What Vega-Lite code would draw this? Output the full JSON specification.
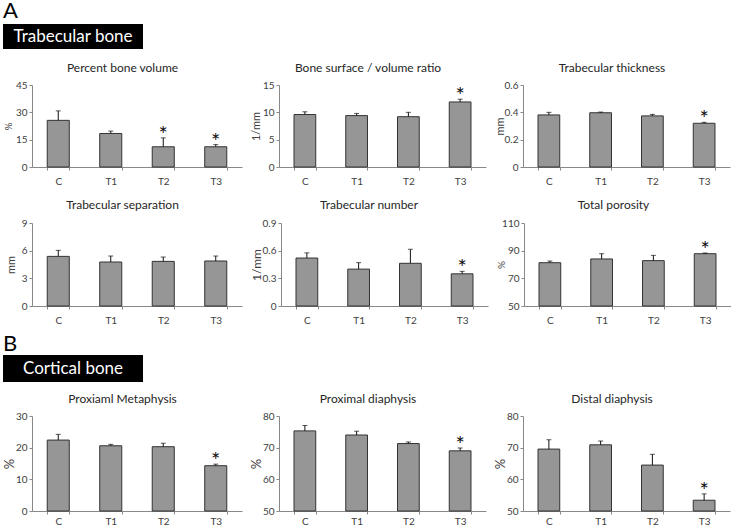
{
  "$schema": "https://vega.github.io/schema/vega-lite/v6.json",
  "padding": {"left": 3, "top": 0, "right": 0, "bottom": 0},
  "background": "white",
  "datasets": {
    "bone": [
      {"p": "p1", "g": "C", "v": 25.6, "u": 30.8, "s": ""},
      {"p": "p1", "g": "T1", "v": 18.4, "u": 19.7, "s": ""},
      {"p": "p1", "g": "T2", "v": 11.1, "u": 16.0, "s": "*"},
      {"p": "p1", "g": "T3", "v": 11.1, "u": 12.3, "s": "*"},
      {"p": "p2", "g": "C", "v": 9.6, "u": 10.1, "s": ""},
      {"p": "p2", "g": "T1", "v": 9.4, "u": 9.8, "s": ""},
      {"p": "p2", "g": "T2", "v": 9.2, "u": 10.0, "s": ""},
      {"p": "p2", "g": "T3", "v": 11.9, "u": 12.4, "s": "*"},
      {"p": "p3", "g": "C", "v": 0.381, "u": 0.4, "s": ""},
      {"p": "p3", "g": "T1", "v": 0.397, "u": 0.402, "s": ""},
      {"p": "p3", "g": "T2", "v": 0.374, "u": 0.385, "s": ""},
      {"p": "p3", "g": "T3", "v": 0.32, "u": 0.327, "s": "*"},
      {"p": "p4", "g": "C", "v": 5.38, "u": 6.03, "s": ""},
      {"p": "p4", "g": "T1", "v": 4.77, "u": 5.42, "s": ""},
      {"p": "p4", "g": "T2", "v": 4.84, "u": 5.31, "s": ""},
      {"p": "p4", "g": "T3", "v": 4.88, "u": 5.42, "s": ""},
      {"p": "p5", "g": "C", "v": 0.52, "u": 0.576, "s": ""},
      {"p": "p5", "g": "T1", "v": 0.4, "u": 0.47, "s": ""},
      {"p": "p5", "g": "T2", "v": 0.463, "u": 0.615, "s": ""},
      {"p": "p5", "g": "T3", "v": 0.349, "u": 0.376, "s": "*"},
      {"p": "p6", "g": "C", "v": 81.3, "u": 82.5, "s": ""},
      {"p": "p6", "g": "T1", "v": 84.0, "u": 87.8, "s": ""},
      {"p": "p6", "g": "T2", "v": 82.8, "u": 86.6, "s": ""},
      {"p": "p6", "g": "T3", "v": 87.8, "u": 88.3, "s": "*"},
      {"p": "p7", "g": "C", "v": 22.4, "u": 24.2, "s": ""},
      {"p": "p7", "g": "T1", "v": 20.6, "u": 21.05, "s": ""},
      {"p": "p7", "g": "T2", "v": 20.3, "u": 21.4, "s": ""},
      {"p": "p7", "g": "T3", "v": 14.3, "u": 14.8, "s": "*"},
      {"p": "p8", "g": "C", "v": 75.3, "u": 77.0, "s": ""},
      {"p": "p8", "g": "T1", "v": 74.0, "u": 75.2, "s": ""},
      {"p": "p8", "g": "T2", "v": 71.3, "u": 71.8, "s": ""},
      {"p": "p8", "g": "T3", "v": 69.0, "u": 69.9, "s": "*"},
      {"p": "p9", "g": "C", "v": 69.55, "u": 72.5, "s": ""},
      {"p": "p9", "g": "T1", "v": 70.9, "u": 72.1, "s": ""},
      {"p": "p9", "g": "T2", "v": 64.5, "u": 67.9, "s": ""},
      {"p": "p9", "g": "T3", "v": 53.4, "u": 55.4, "s": "*"}
    ]
  },
  "data": {"name": "bone"},
  "spacing": 8,
  "vconcat": [
    {
      "spacing": 13,
      "vconcat": [
        {
          "width": 140, "height": 25,
          "view": {"fill": "black", "stroke": null},
          "title": {"text": "A", "anchor": "start", "fontSize": 22, "baseline": "alphabetic", "offset": -16, "color": "black"},
          "data": {"values": [{"label": "Trabecular bone"}]},
          "mark": {"type": "text", "color": "white", "fontSize": 17},
          "encoding": {"text": {"field": "label"}}
        },
        {
          "spacing": 8,
          "hconcat": [
            {
              "width": 239, "height": 82,
              "title": {"text": "Percent bone volume", "offset": 5},
              "transform": [{"filter": "datum.p === 'p1'"}],
              "encoding": {
                "x": {"field": "g", "type": "nominal", "sort": null, "title": null, "scale": {"paddingInner": 0.58, "paddingOuter": 0.29, "range": [29, 239]}, "axis": {"labelPadding": 6}},
                "y": {"field": "v", "type": "quantitative", "title": "%", "scale": {"domain": [0, 45], "nice": false, "zero": false}, "axis": {"values": [0, 15, 30, 45], "titleFontSize": 10, "titlePadding": 3, "offset": -29}}
              },
              "layer": [
                {"mark": "bar"},
                {"mark": "rule", "encoding": {"y2": {"field": "u"}}},
                {"mark": {"type": "tick", "size": 5, "thickness": 1}, "encoding": {"y": {"field": "u", "type": "quantitative"}}},
                {"mark": {"type": "text", "baseline": "alphabetic", "fontSize": 22, "dy": 4}, "encoding": {"y": {"field": "u", "type": "quantitative"}, "text": {"field": "s"}}}
              ]
            },
            {
              "width": 207, "height": 82,
              "title": {"text": "Bone surface / volume ratio", "offset": 5},
              "transform": [{"filter": "datum.p === 'p2'"}],
              "encoding": {
                "x": {"field": "g", "type": "nominal", "sort": null, "title": null, "scale": {"paddingInner": 0.58, "paddingOuter": 0.29}, "axis": {"labelPadding": 6}},
                "y": {"field": "v", "type": "quantitative", "title": "1/mm", "scale": {"domain": [0, 15], "nice": false, "zero": false}, "axis": {"values": [0, 5, 10, 15]}}
              },
              "layer": [
                {"mark": "bar"},
                {"mark": "rule", "encoding": {"y2": {"field": "u"}}},
                {"mark": {"type": "tick", "size": 5, "thickness": 1}, "encoding": {"y": {"field": "u", "type": "quantitative"}}},
                {"mark": {"type": "text", "baseline": "alphabetic", "fontSize": 22, "dy": 4}, "encoding": {"y": {"field": "u", "type": "quantitative"}, "text": {"field": "s"}}}
              ]
            },
            {
              "width": 207, "height": 82,
              "title": {"text": "Trabecular thickness", "offset": 5},
              "transform": [{"filter": "datum.p === 'p3'"}],
              "encoding": {
                "x": {"field": "g", "type": "nominal", "sort": null, "title": null, "scale": {"paddingInner": 0.58, "paddingOuter": 0.29}, "axis": {"labelPadding": 6}},
                "y": {"field": "v", "type": "quantitative", "title": "mm", "scale": {"domain": [0, 0.6], "nice": false, "zero": false}, "axis": {"values": [0, 0.2, 0.4, 0.6], "format": "~g"}}
              },
              "layer": [
                {"mark": "bar"},
                {"mark": "rule", "encoding": {"y2": {"field": "u"}}},
                {"mark": {"type": "tick", "size": 5, "thickness": 1}, "encoding": {"y": {"field": "u", "type": "quantitative"}}},
                {"mark": {"type": "text", "baseline": "alphabetic", "fontSize": 22, "dy": 4}, "encoding": {"y": {"field": "u", "type": "quantitative"}, "text": {"field": "s"}}}
              ]
            }
          ]
        },
        {
          "spacing": 8,
          "hconcat": [
            {
              "width": 239, "height": 83,
              "title": {"text": "Trabecular separation", "offset": 6},
              "transform": [{"filter": "datum.p === 'p4'"}],
              "encoding": {
                "x": {"field": "g", "type": "nominal", "sort": null, "title": null, "scale": {"paddingInner": 0.58, "paddingOuter": 0.29, "range": [29, 239]}, "axis": {"labelPadding": 6}},
                "y": {"field": "v", "type": "quantitative", "title": "mm", "scale": {"domain": [0, 9], "nice": false, "zero": false}, "axis": {"values": [0, 3, 6, 9], "titlePadding": 0, "offset": -29}}
              },
              "layer": [
                {"mark": "bar"},
                {"mark": "rule", "encoding": {"y2": {"field": "u"}}},
                {"mark": {"type": "tick", "size": 5, "thickness": 1}, "encoding": {"y": {"field": "u", "type": "quantitative"}}},
                {"mark": {"type": "text", "baseline": "alphabetic", "fontSize": 22, "dy": 4}, "encoding": {"y": {"field": "u", "type": "quantitative"}, "text": {"field": "s"}}}
              ]
            },
            {
              "width": 207, "height": 83,
              "title": {"text": "Trabecular number", "offset": 6},
              "transform": [{"filter": "datum.p === 'p5'"}],
              "encoding": {
                "x": {"field": "g", "type": "nominal", "sort": null, "title": null, "scale": {"paddingInner": 0.58, "paddingOuter": 0.29}, "axis": {"labelPadding": 6}},
                "y": {"field": "v", "type": "quantitative", "title": "1/mm", "scale": {"domain": [0, 0.9], "nice": false, "zero": false}, "axis": {"values": [0, 0.3, 0.6, 0.9], "format": "~g", "titleFontSize": 12}}
              },
              "layer": [
                {"mark": "bar"},
                {"mark": "rule", "encoding": {"y2": {"field": "u"}}},
                {"mark": {"type": "tick", "size": 5, "thickness": 1}, "encoding": {"y": {"field": "u", "type": "quantitative"}}},
                {"mark": {"type": "text", "baseline": "alphabetic", "fontSize": 22, "dy": 4}, "encoding": {"y": {"field": "u", "type": "quantitative"}, "text": {"field": "s"}}}
              ]
            },
            {
              "width": 207, "height": 83,
              "title": {"text": "Total porosity", "offset": 6},
              "transform": [{"filter": "datum.p === 'p6'"}],
              "encoding": {
                "x": {"field": "g", "type": "nominal", "sort": null, "title": null, "scale": {"paddingInner": 0.58, "paddingOuter": 0.29}, "axis": {"labelPadding": 6}},
                "y": {"field": "v", "type": "quantitative", "title": "%", "scale": {"domain": [50, 110], "nice": false, "zero": false}, "axis": {"values": [50, 70, 90, 110], "titleFontSize": 10}}
              },
              "layer": [
                {"mark": "bar", "encoding": {"y2": {"datum": 50}}},
                {"mark": "rule", "encoding": {"y2": {"field": "u"}}},
                {"mark": {"type": "tick", "size": 5, "thickness": 1}, "encoding": {"y": {"field": "u", "type": "quantitative"}}},
                {"mark": {"type": "text", "baseline": "alphabetic", "fontSize": 22, "dy": 4}, "encoding": {"y": {"field": "u", "type": "quantitative"}, "text": {"field": "s"}}}
              ]
            }
          ]
        }
      ]
    },
    {
      "spacing": 11,
      "vconcat": [
        {
          "width": 140, "height": 27,
          "view": {"fill": "black", "stroke": null},
          "title": {"text": "B", "anchor": "start", "fontSize": 22, "baseline": "alphabetic", "offset": -18, "color": "black"},
          "data": {"values": [{"label": "Cortical bone"}]},
          "mark": {"type": "text", "color": "white", "fontSize": 17},
          "encoding": {"text": {"field": "label"}}
        },
        {
          "spacing": 8,
          "hconcat": [
            {
              "width": 239, "height": 95,
              "title": {"text": "Proxiaml Metaphysis", "offset": 5},
              "transform": [{"filter": "datum.p === 'p7'"}],
              "encoding": {
                "x": {"field": "g", "type": "nominal", "sort": null, "title": null, "scale": {"paddingInner": 0.58, "paddingOuter": 0.29, "range": [29, 239]}, "axis": {"labelPadding": 2}},
                "y": {"field": "v", "type": "quantitative", "title": "%", "scale": {"domain": [0, 30], "nice": false, "zero": false}, "axis": {"values": [0, 10, 20, 30], "titleFontSize": 13, "titlePadding": 0, "offset": -29}}
              },
              "layer": [
                {"mark": "bar"},
                {"mark": "rule", "encoding": {"y2": {"field": "u"}}},
                {"mark": {"type": "tick", "size": 5, "thickness": 1}, "encoding": {"y": {"field": "u", "type": "quantitative"}}},
                {"mark": {"type": "text", "baseline": "alphabetic", "fontSize": 22, "dy": 4}, "encoding": {"y": {"field": "u", "type": "quantitative"}, "text": {"field": "s"}}}
              ]
            },
            {
              "width": 207, "height": 95,
              "title": {"text": "Proximal diaphysis", "offset": 5},
              "transform": [{"filter": "datum.p === 'p8'"}],
              "encoding": {
                "x": {"field": "g", "type": "nominal", "sort": null, "title": null, "scale": {"paddingInner": 0.58, "paddingOuter": 0.29}, "axis": {"labelPadding": 2}},
                "y": {"field": "v", "type": "quantitative", "title": "%", "scale": {"domain": [50, 80], "nice": false, "zero": false}, "axis": {"values": [50, 60, 70, 80], "titleFontSize": 13, "titlePadding": 0}}
              },
              "layer": [
                {"mark": "bar", "encoding": {"y2": {"datum": 50}}},
                {"mark": "rule", "encoding": {"y2": {"field": "u"}}},
                {"mark": {"type": "tick", "size": 5, "thickness": 1}, "encoding": {"y": {"field": "u", "type": "quantitative"}}},
                {"mark": {"type": "text", "baseline": "alphabetic", "fontSize": 22, "dy": 4}, "encoding": {"y": {"field": "u", "type": "quantitative"}, "text": {"field": "s"}}}
              ]
            },
            {
              "width": 207, "height": 95,
              "title": {"text": "Distal diaphysis", "offset": 5},
              "transform": [{"filter": "datum.p === 'p9'"}],
              "encoding": {
                "x": {"field": "g", "type": "nominal", "sort": null, "title": null, "scale": {"paddingInner": 0.58, "paddingOuter": 0.29}, "axis": {"labelPadding": 2}},
                "y": {"field": "v", "type": "quantitative", "title": "%", "scale": {"domain": [50, 80], "nice": false, "zero": false}, "axis": {"values": [50, 60, 70, 80], "titleFontSize": 13, "titlePadding": 0}}
              },
              "layer": [
                {"mark": "bar", "encoding": {"y2": {"datum": 50}}},
                {"mark": "rule", "encoding": {"y2": {"field": "u"}}},
                {"mark": {"type": "tick", "size": 5, "thickness": 1}, "encoding": {"y": {"field": "u", "type": "quantitative"}}},
                {"mark": {"type": "text", "baseline": "alphabetic", "fontSize": 22, "dy": 4}, "encoding": {"y": {"field": "u", "type": "quantitative"}, "text": {"field": "s"}}}
              ]
            }
          ]
        }
      ]
    }
  ],
  "config": {
    "font": "Lato",
    "view": {"stroke": null},
    "axis": {
      "grid": false,
      "domainColor": "#888888",
      "tickColor": "#888888",
      "tickSize": 3,
      "labelColor": "#404040",
      "labelFontSize": 10,
      "labelFont": "Lato",
      "titleFont": "Lato",
      "titleFontWeight": "normal",
      "titleColor": "#404040"
    },
    "axisX": {"labelAngle": 0, "tickBand": "extent"},
    "axisY": {"minExtent": 16, "maxExtent": 16, "titlePadding": 2, "titleFontSize": 11, "labelPadding": 2},
    "title": {"fontSize": 12, "fontWeight": "normal", "baseline": "alphabetic", "color": "#262626", "anchor": "middle", "frame": "bounds", "font": "Lato"},
    "bar": {"fill": "#969696", "stroke": "#333333", "strokeWidth": 1},
    "rule": {"color": "#111111"},
    "tick": {"color": "#111111"},
    "text": {"color": "#111111"}
  }
}
